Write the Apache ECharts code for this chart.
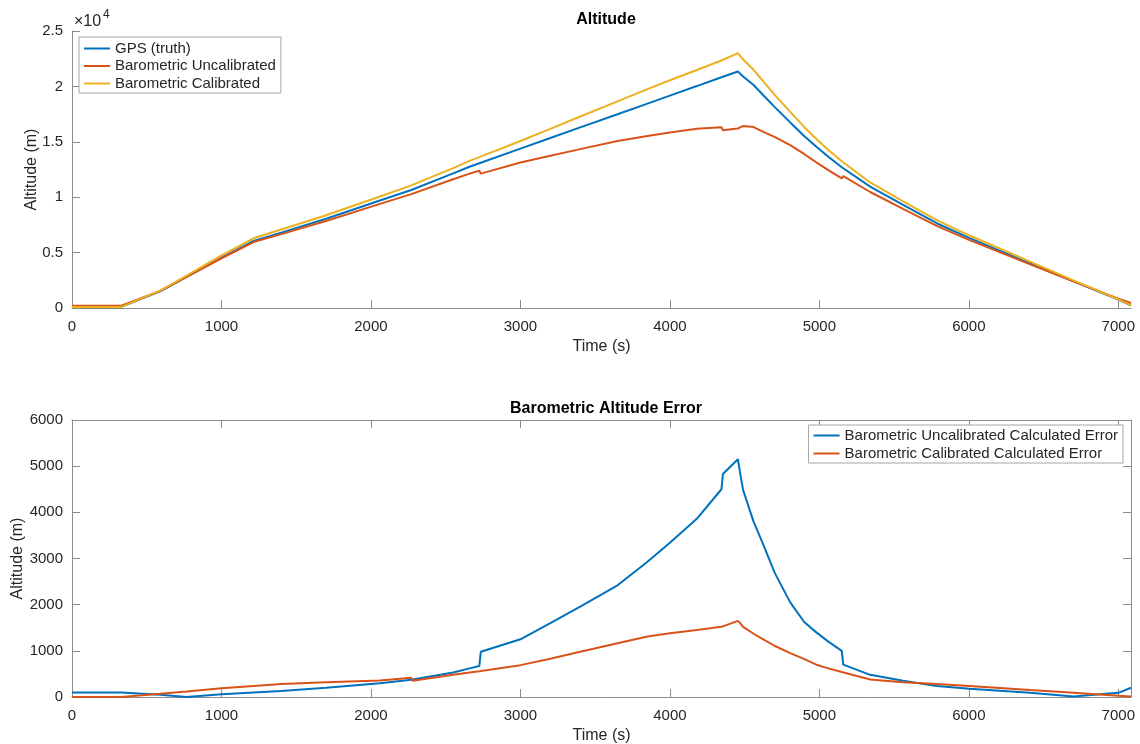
<!DOCTYPE html>
<html>
<head>
<meta charset="utf-8">
<title>Altitude</title>
<script src="https://cdn.jsdelivr.net/npm/echarts@6.0.0/dist/echarts.min.js"></script>
<style>
	html, body { margin: 0; padding: 0; background: #fff; }
	#main { width: 1140px; height: 744px; }
</style>
</head>
<body>
<div id="main"></div>
<script>
// time samples (s), shared by every series
var timeS = [0, 330, 590, 767, 1000, 1215, 1400, 1700, 2060, 2270, 2280, 2550, 2660, 2725, 2735, 3000, 3200, 3400, 3650, 3850, 4000, 4180, 4345, 4355, 4455, 4470, 4490, 4560, 4625, 4700, 4805, 4900, 4980, 5060, 5150, 5160, 5340, 5560, 5785, 6005, 6410, 6700, 7000, 7085];

// top plot: altitude (m)
var gpsAlt = [100, 100, 1500, 2800, 4550, 6050, 6800, 8050, 9700, 10650, 10700, 12150, 12750, 13060, 13110, 14380, 15340, 16300, 17490, 18450, 19170, 20030, 20820, 20870, 21350, 21150, 20900, 20130, 19200, 18150, 16750, 15500, 14550, 13650, 12700, 12600, 10950, 9300, 7650, 6300, 4030, 2400, 750, 250];
var uncalAlt = [200, 200, 1550, 2800, 4490, 5950, 6670, 7850, 9400, 10275, 10320, 11620, 12130, 12390, 12130, 13130, 13740, 14340, 15070, 15520, 15830, 16170, 16320, 16040, 16200, 16300, 16420, 16330, 15900, 15450, 14700, 13880, 13150, 12450, 11700, 11900, 10470, 8950, 7410, 6120, 3940, 2410, 840, 450];
var calAlt = [100, 100, 1570, 2920, 4740, 6290, 7080, 8370, 10060, 11065, 11050, 12630, 13280, 13620, 13675, 15070, 16170, 17280, 18655, 19760, 20550, 21480, 22340, 22400, 23000, 22750, 22420, 21500, 20450, 19260, 17700, 16320, 15250, 14270, 13240, 13130, 11330, 9620, 7930, 6540, 4180, 2490, 775, 260];

// bottom plot: error (m)
var uncalErr = [100, 100, 50, 0, 60, 100, 130, 200, 300, 375, 380, 530, 620, 670, 980, 1250, 1600, 1960, 2420, 2930, 3340, 3860, 4500, 4830, 5150, 4850, 4480, 3800, 3300, 2700, 2050, 1620, 1400, 1200, 1000, 700, 480, 350, 240, 180, 90, 10, 90, 200];
var calErr = [0, 0, 70, 120, 190, 240, 280, 320, 360, 415, 350, 480, 530, 560, 565, 690, 830, 980, 1165, 1310, 1380, 1450, 1520, 1530, 1650, 1600, 1520, 1370, 1250, 1110, 950, 820, 700, 620, 540, 530, 380, 320, 280, 240, 150, 90, 25, 10];

// ticks
var timeTicks = [0, 1000, 2000, 3000, 4000, 5000, 6000, 7000];
var altTicks = [0, 5000, 10000, 15000, 20000, 25000];
var errTicks = [0, 1000, 2000, 3000, 4000, 5000, 6000];

var topNames = ['GPS (truth)', 'Barometric Uncalibrated', 'Barometric Calibrated'];
var bottomNames = ['Barometric Uncalibrated Calculated Error', 'Barometric Calibrated Calculated Error'];
var colors = ['#0072BD', '#D95319', '#EDB120'];

var font = '"Liberation Sans", Arial, Helvetica, sans-serif';
var textColor = '#262626';
var axisColor = '#8c8c8c';
var timeMax = 7085;

function pairs(xs, ys) {
	var out = [];
	for(var i = 0; i < xs.length; i++) {
		out.push([xs[i], ys[i]]);
	}
	return out;
}

function plain(v) {
	return String(v);
}

function lineSeries(name, color, xi, yi, values) {
	return {
		name: name,
		type: 'line',
		xAxisIndex: xi,
		yAxisIndex: yi,
		data: pairs(timeS, values),
		symbol: 'none',
		showSymbol: false,
		lineStyle: { width: 2, color: color },
		itemStyle: { color: color },
		emphasis: { disabled: true },
		animation: false
	};
}

function timeAxis(grid, pos, labels) {
	return {
		type: 'value',
		gridIndex: grid,
		position: pos,
		min: 0,
		max: timeMax,
		interval: 1000,
		name: labels ? 'Time (s)' : '',
		nameLocation: 'middle',
		nameGap: 31,
		nameMoveOverlap: false,
		nameTextStyle: { fontFamily: font, fontSize: 16, color: textColor },
		axisLine: { show: true, onZero: false, lineStyle: { color: axisColor, width: 1 } },
		axisTick: { show: true, inside: true, length: 8, customValues: timeTicks, lineStyle: { color: axisColor } },
		axisLabel: { show: labels, customValues: timeTicks, fontFamily: font, fontSize: 15, color: textColor, margin: 11, formatter: plain },
		splitLine: { show: false }
	};
}

function valueAxis(grid, pos, max, step, ticks, labels, fmt, gap) {
	return {
		type: 'value',
		gridIndex: grid,
		position: pos,
		min: 0,
		max: max,
		interval: step,
		name: labels ? 'Altitude (m)' : '',
		nameLocation: 'middle',
		nameGap: gap,
		nameMoveOverlap: false,
		nameTextStyle: { fontFamily: font, fontSize: 16, color: textColor },
		axisLine: { show: true, onZero: false, lineStyle: { color: axisColor, width: 1 } },
		axisTick: { show: true, inside: true, length: 8, customValues: ticks, lineStyle: { color: axisColor } },
		axisLabel: { show: labels, customValues: ticks, fontFamily: font, fontSize: 15, color: textColor, margin: 9, formatter: fmt },
		splitLine: { show: false }
	};
}

function legendBox(names, pos) {
	var lg = {
		data: names,
		orient: 'vertical',
		icon: 'rect',
		itemWidth: 26,
		itemHeight: 2,
		backgroundColor: '#fff',
		borderColor: '#a6a6a6',
		borderWidth: 1,
		borderRadius: 0,
		selectedMode: false,
		textStyle: { fontFamily: font, fontSize: 15, color: textColor }
	};
	for(var k in pos) {
		lg[k] = pos[k];
	}
	return lg;
}

var chart = echarts.init(document.getElementById('main'), null, { renderer: 'canvas' });

var option = {
	backgroundColor: '#fff',
	animation: false,
	title: [{
		text: 'Altitude',
		left: 601,
		top: 7,
		textAlign: 'center',
		textStyle: { fontFamily: font, fontSize: 16, fontWeight: 'bold', color: '#000' }
	}, {
		text: 'Barometric Altitude Error',
		left: 601,
		top: 396,
		textAlign: 'center',
		textStyle: { fontFamily: font, fontSize: 16, fontWeight: 'bold', color: '#000' }
	}],
	grid: [
		{ left: 72, top: 31, width: 1059, height: 277, containLabel: false, outerBoundsMode: 'none' },
		{ left: 72, top: 420, width: 1059, height: 277, containLabel: false, outerBoundsMode: 'none' }
	],
	legend: [
		legendBox(topNames, { left: 79, top: 37, padding: [4, 5, 2, 5], itemGap: 2.5 }),
		legendBox(bottomNames, { right: 17, top: 425, padding: [3, 5, 2, 5], itemGap: 3 })
	],
	xAxis: [
		timeAxis(0, 'bottom', true),
		timeAxis(1, 'bottom', true),
		timeAxis(1, 'top', false)
	],
	yAxis: [
		valueAxis(0, 'left', 25000, 5000, altTicks, true, function(v) { return String(v / 10000); }, 32),
		valueAxis(1, 'left', 6000, 1000, errTicks, true, plain, 46),
		valueAxis(1, 'right', 6000, 1000, errTicks, false, plain, 0)
	],
	graphic: [{
		type: 'text',
		left: 74,
		top: 14,
		style: { text: '\u00d710', font: '16px ' + font, fill: textColor }
	}, {
		type: 'text',
		left: 103,
		top: 9,
		style: { text: '4', font: '12px ' + font, fill: textColor }
	}],
	series: [
		lineSeries(topNames[0], colors[0], 0, 0, gpsAlt),
		lineSeries(topNames[1], colors[1], 0, 0, uncalAlt),
		lineSeries(topNames[2], colors[2], 0, 0, calAlt),
		lineSeries(bottomNames[0], colors[0], 1, 1, uncalErr),
		lineSeries(bottomNames[1], colors[1], 1, 1, calErr)
	]
};

chart.setOption(option);
</script>
</body>
</html>
